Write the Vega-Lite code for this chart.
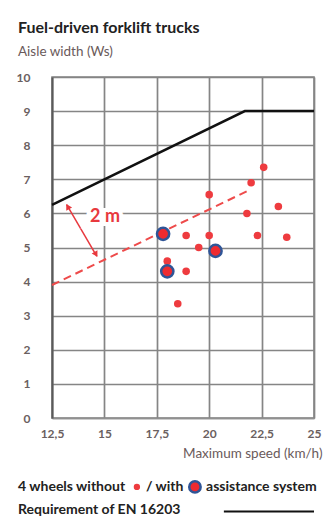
{
  "$schema": "https://vega.github.io/schema/vega-lite/v6.json",
  "width": 262,
  "height": 341,
  "autosize": {"type": "none"},
  "padding": {"left": 52, "top": 77, "right": 12, "bottom": 99},
  "background": "white",
  "config": {"view": {"stroke": "#858585", "strokeWidth": 1.6}, "font": "Lato"},
  "title": {
    "text": "Fuel-driven forklift trucks",
    "subtitle": "Aisle width (Ws)",
    "anchor": "start",
    "frame": "group",
    "dx": -34,
    "offset": 13,
    "font": "Lato",
    "fontSize": 16,
    "fontWeight": "bold",
    "color": "#222222",
    "subtitleFont": "Lato",
    "subtitleFontSize": 13.5,
    "subtitleColor": "#6a5a5a",
    "subtitlePadding": 9
  },
  "datasets": {
    "req": [
      {"speed": 12.5, "width": 6.25},
      {"speed": 21.7, "width": 9},
      {"speed": 25, "width": 9}
    ],
    "trend": [
      {"speed": 12.5, "width": 3.9},
      {"speed": 21.8, "width": 6.65}
    ],
    "without": [
      {"speed": 22.6, "width": 7.35},
      {"speed": 22.0, "width": 6.9},
      {"speed": 20.0, "width": 6.55},
      {"speed": 23.3, "width": 6.2},
      {"speed": 21.8, "width": 6.0},
      {"speed": 18.9, "width": 5.35},
      {"speed": 20.0, "width": 5.35},
      {"speed": 22.3, "width": 5.35},
      {"speed": 23.7, "width": 5.3},
      {"speed": 19.5, "width": 5.0},
      {"speed": 18.0, "width": 4.6},
      {"speed": 18.9, "width": 4.3},
      {"speed": 18.5, "width": 3.35}
    ],
    "with": [
      {"speed": 17.8, "width": 5.4},
      {"speed": 20.3, "width": 4.9},
      {"speed": 18.0, "width": 4.3}
    ],
    "arrow": [
      {"x1": 13.2, "y1": 6.26, "x2": 14.64, "y2": 4.74}
    ],
    "heads": [
      {"speed": 13.25, "width": 6.2, "shape": "triangle-up"},
      {"speed": 14.6, "width": 4.8, "shape": "triangle-down"}
    ],
    "label2m": [
      {"speed": 15.03, "width": 5.89, "text": "2 m"}
    ],
    "legendText": [
      {"speed": 10.88, "width": -2.02, "text": "4 wheels without"},
      {"speed": 16.98, "width": -2.02, "text": "/ with"},
      {"speed": 19.85, "width": -2.02, "text": "assistance system"},
      {"speed": 10.88, "width": -2.7, "text": "Requirement of EN 16203"}
    ],
    "legendDotWithout": [
      {"speed": 16.55, "width": -2.02}
    ],
    "legendDotWith": [
      {"speed": 19.32, "width": -2.02}
    ],
    "legendLine": [
      {"speed": 20.7, "width": -2.74},
      {"speed": 25.0, "width": -2.74}
    ]
  },
  "layer": [
    {
      "data": {"name": "req"},
      "mark": {"type": "line", "color": "#111111", "strokeWidth": 2.5},
      "encoding": {
        "x": {
          "field": "speed", "type": "quantitative",
          "scale": {"domain": [12.5, 25], "nice": false, "zero": false},
          "axis": {
            "values": [12.5, 15, 17.5, 20, 22.5, 25],
            "tickCount": 20,
            "format": ".1~f",
            "labelExpr": "replace(datum.label, '.', ',')",
            "title": "Maximum speed (km/h)",
            "titleAnchor": "end",
            "titleAlign": "right",
            "titleX": 270,
            "titleFont": "Lato",
            "titleFontSize": 13.5,
            "titleFontWeight": "normal",
            "titleColor": "#6a5a5a",
            "titlePadding": 7,
            "labelFont": "Lato",
            "labelFontSize": 12,
            "labelFontWeight": "bold",
            "labelColor": "#6a6060",
            "labelPadding": 10,
            "labelOverlap": false,
            "ticks": false,
            "domainColor": "#909090",
            "domainWidth": 1.6,
            "grid": true,
            "gridColor": "#858585",
            "gridWidth": 1.7,
            "labelFlush": false
          }
        },
        "y": {
          "field": "width", "type": "quantitative",
          "scale": {"domain": [0, 10], "nice": false},
          "axis": {
            "values": [0, 1, 2, 3, 4, 5, 6, 7, 8, 9, 10],
            "tickCount": 20,
            "format": "d",
            "title": null,
            "labelFont": "Lato",
            "labelFontSize": 12,
            "labelFontWeight": "bold",
            "labelColor": "#6a6060",
            "labelPadding": 22,
            "labelOverlap": false,
            "ticks": false,
            "domainColor": "#5a5a5a",
            "domainWidth": 2,
            "grid": true,
            "gridColor": "#858585",
            "gridWidth": 1.7
          }
        }
      }
    },
    {
      "data": {"name": "trend"},
      "mark": {"type": "line", "color": "#ee4b4b", "strokeWidth": 2, "strokeDash": [8, 5]},
      "encoding": {
        "x": {"field": "speed", "type": "quantitative"},
        "y": {"field": "width", "type": "quantitative"}
      }
    },
    {
      "data": {"name": "arrow"},
      "mark": {"type": "rule", "color": "#e8393e", "strokeWidth": 1.5},
      "encoding": {
        "x": {"field": "x1", "type": "quantitative"},
        "y": {"field": "y1", "type": "quantitative"},
        "x2": {"field": "x2"},
        "y2": {"field": "y2"}
      }
    },
    {
      "data": {"name": "heads"},
      "mark": {"type": "point", "filled": true, "color": "#e8393e", "size": 45, "angle": -30, "opacity": 1},
      "encoding": {
        "x": {"field": "speed", "type": "quantitative"},
        "y": {"field": "width", "type": "quantitative"},
        "shape": {"field": "shape", "type": "nominal", "scale": null, "legend": null}
      }
    },
    {
      "data": {"name": "label2m"},
      "mark": {"type": "text", "font": "Lato", "fontSize": 18, "fontWeight": "bold", "color": "white", "stroke": "white", "strokeWidth": 8, "align": "center", "baseline": "middle"},
      "encoding": {
        "x": {"field": "speed", "type": "quantitative"},
        "y": {"field": "width", "type": "quantitative"},
        "text": {"field": "text"}
      }
    },
    {
      "data": {"name": "label2m"},
      "mark": {"type": "text", "font": "Lato", "fontSize": 18, "fontWeight": "bold", "color": "#e8393e", "align": "center", "baseline": "middle"},
      "encoding": {
        "x": {"field": "speed", "type": "quantitative"},
        "y": {"field": "width", "type": "quantitative"},
        "text": {"field": "text"}
      }
    },
    {
      "data": {"name": "without"},
      "mark": {"type": "circle", "color": "#ee3b3f", "size": 57, "opacity": 1},
      "encoding": {
        "x": {"field": "speed", "type": "quantitative"},
        "y": {"field": "width", "type": "quantitative"}
      }
    },
    {
      "data": {"name": "with"},
      "mark": {"type": "point", "filled": true, "fill": "#ee2b30", "stroke": "#2f5597", "strokeWidth": 2.5, "size": 150, "opacity": 1, "shape": "circle"},
      "encoding": {
        "x": {"field": "speed", "type": "quantitative"},
        "y": {"field": "width", "type": "quantitative"}
      }
    },
    {
      "data": {"name": "legendText"},
      "mark": {"type": "text", "font": "Lato", "fontSize": 14, "fontWeight": "bold", "color": "#222222", "align": "left", "baseline": "middle"},
      "encoding": {
        "x": {"field": "speed", "type": "quantitative"},
        "y": {"field": "width", "type": "quantitative"},
        "text": {"field": "text"}
      }
    },
    {
      "data": {"name": "legendDotWithout"},
      "mark": {"type": "circle", "color": "#ee3b3f", "size": 40, "opacity": 1},
      "encoding": {
        "x": {"field": "speed", "type": "quantitative"},
        "y": {"field": "width", "type": "quantitative"}
      }
    },
    {
      "data": {"name": "legendDotWith"},
      "mark": {"type": "point", "filled": true, "fill": "#ee2b30", "stroke": "#2f5597", "strokeWidth": 2.5, "size": 130, "opacity": 1, "shape": "circle"},
      "encoding": {
        "x": {"field": "speed", "type": "quantitative"},
        "y": {"field": "width", "type": "quantitative"}
      }
    },
    {
      "data": {"name": "legendLine"},
      "mark": {"type": "line", "color": "#111111", "strokeWidth": 2},
      "encoding": {
        "x": {"field": "speed", "type": "quantitative"},
        "y": {"field": "width", "type": "quantitative"}
      }
    }
  ]
}
